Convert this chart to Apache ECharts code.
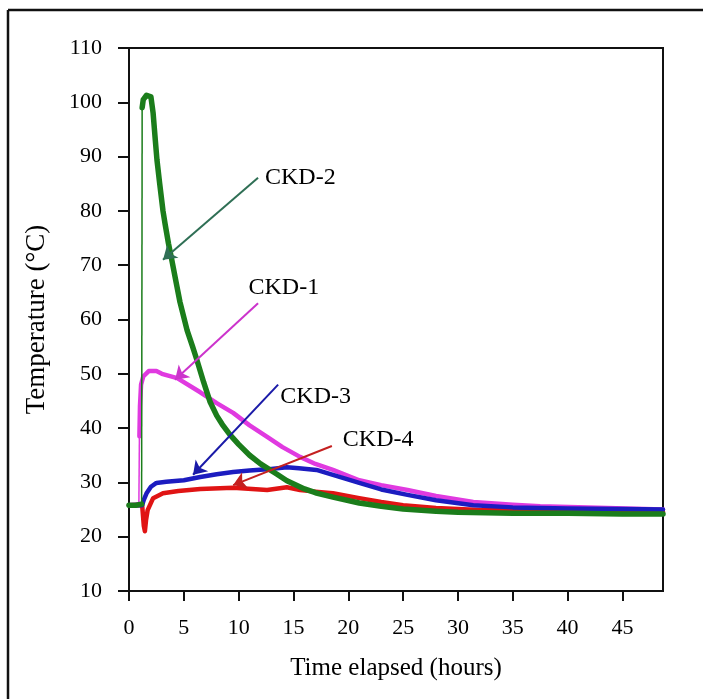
<!DOCTYPE html>
<html>
<head>
<meta charset="utf-8">
<script src="https://cdn.jsdelivr.net/npm/echarts@6/dist/echarts.min.js"></script>
<style>
html,body{margin:0;padding:0;background:#fff;}
#chart{width:703px;height:699px;}
</style>
</head>
<body>
<div id="chart"></div>
<script>
// ---- data ----
var xTicks = [0, 5, 10, 15, 20, 25, 30, 35, 40, 45];
var yTicks = [10, 20, 30, 40, 50, 60, 70, 80, 90, 100, 110];

// CKD-1 (magenta)
var ckd1Time = [0, 0.9, 0.95, 1.0, 1.1, 1.3, 1.8, 2.5, 3.0, 4.4, 6.5, 8.0, 9.5, 11, 12.6, 14, 15.6, 17, 18.6, 21, 23, 25.4, 28, 31.4, 35, 37.5, 43.6, 48.7];
var ckd1Temp = [25.8, 26.0, 38.5, 44, 48, 49.5, 50.5, 50.5, 50.0, 49.2, 46.6, 44.6, 42.8, 40.5, 38.4, 36.5, 34.7, 33.4, 32.3, 30.4, 29.5, 28.6, 27.5, 26.4, 25.9, 25.6, 25.3, 25.0];
var ckd1Jump = 2;

// CKD-2 (green)
var ckd2Time = [0, 0.6, 1.15, 1.2, 1.3, 1.6, 2.0, 2.2, 2.4, 2.55, 2.8, 3.1, 3.3, 3.6, 3.9, 4.3, 4.65, 5.3, 5.8, 6.2, 6.8, 7.4, 8.0, 8.5, 9.2, 10, 11, 12, 13.5, 14.4, 16, 17, 18.6, 21, 23, 25, 28, 30, 35, 40, 45, 48.7];
var ckd2Temp = [25.8, 25.8, 26.0, 99.0, 100.5, 101.3, 101.0, 98.0, 93.0, 89.4, 85.0, 80.0, 77.5, 74.0, 71.0, 66.8, 63.2, 58.0, 55.0, 52.5, 48.5, 44.8, 42.3, 40.7, 38.8, 37.0, 35.0, 33.4, 31.5, 30.3, 28.8, 28.1, 27.3, 26.2, 25.6, 25.1, 24.7, 24.5, 24.3, 24.3, 24.2, 24.2];
var ckd2Jump = 3;

// CKD-3 (blue)
var ckd3Time = [0, 1.2, 1.35, 1.6, 2.0, 2.5, 3.4, 5, 6.5, 8, 9.5, 11, 12.6, 14.4, 15.5, 17.1, 19.2, 21, 23, 25.4, 28, 31.4, 35, 40, 45, 48.7];
var ckd3Temp = [25.8, 25.8, 26.8, 28.0, 29.2, 29.9, 30.1, 30.4, 31.0, 31.5, 31.9, 32.2, 32.4, 32.8, 32.6, 32.3, 31.0, 29.9, 28.7, 27.7, 26.7, 25.8, 25.4, 25.2, 25.1, 25.0];

// CKD-4 (red)
var ckd4Time = [0, 1.2, 1.35, 1.45, 1.55, 1.7, 2.2, 3.1, 4.5, 6.5, 9.5, 12.6, 14.4, 15.6, 17, 18.6, 21, 23, 25, 28, 32, 40, 48.7];
var ckd4Temp = [25.8, 25.8, 22.0, 21.0, 23.0, 24.9, 27.1, 28.0, 28.4, 28.8, 29.0, 28.6, 29.1, 28.6, 28.3, 28.0, 27.1, 26.4, 25.8, 25.3, 24.9, 24.7, 24.6];

// annotations (data coordinates)
var annNames = ['CKD-2', 'CKD-1', 'CKD-3', 'CKD-4'];
var annTextPos = [[12.4, 86.1], [10.9, 65.9], [13.8, 45.8], [19.5, 37.9]];
var annArrowFrom = [[11.77, 86.1], [11.77, 63.0], [13.6, 48.0], [18.5, 36.7]];
var annArrowTo = [[3.1, 71.0], [4.2, 48.9], [5.84, 31.4], [9.5, 29.5]];
var annColors = ['#2f6f55', '#cc33cc', '#1a1aa8', '#c42020'];

// ---- build ----
var FONT = "'Liberation Serif', serif";
function pts(t, v) { return t.map(function (x, i) { return [x, v[i]]; }); }
function broken(t, v, j) {
  var p = pts(t, v);
  if (j == null) return p;
  return p.slice(0, j).concat([[null, null]]).concat(p.slice(j));
}
function connector(t, v, j) { return [[t[j - 1], v[j - 1]], [t[j], v[j]]]; }

var curves = [
  { name: 'CKD-1', t: ckd1Time, v: ckd1Temp, j: ckd1Jump, color: '#e03ae0', w: 4.5 },
  { name: 'CKD-4', t: ckd4Time, v: ckd4Temp, j: null, color: '#e01414', w: 4.5 },
  { name: 'CKD-3', t: ckd3Time, v: ckd3Temp, j: null, color: '#1c1cc0', w: 4.5 },
  { name: 'CKD-2', t: ckd2Time, v: ckd2Temp, j: ckd2Jump, color: '#1b7d1b', w: 5.5 }
];

var series = [];
curves.forEach(function (c) {
  series.push({
    type: 'line', name: c.name, data: broken(c.t, c.v, c.j),
    showSymbol: false, connectNulls: false, silent: true,
    lineStyle: { color: c.color, width: c.w, join: 'round', cap: 'round' },
    z: 3
  });
  if (c.j != null) {
    series.push({
      type: 'line', name: c.name + ' rise', data: connector(c.t, c.v, c.j),
      showSymbol: false, silent: true,
      lineStyle: { color: c.color, width: 1.5 }, z: 3
    });
  }
});

series.push({
  type: 'line', name: 'arrows', data: [], silent: true,
  markLine: {
    silent: true, animation: false,
    symbol: ['none', 'arrow'], symbolSize: 13,
    label: { show: false },
    emphasis: { disabled: true },
    data: annNames.map(function (n, i) {
      return [
        { coord: annArrowFrom[i], lineStyle: { color: annColors[i], width: 2, type: 'solid' }, itemStyle: { color: annColors[i] } },
        { coord: annArrowTo[i], itemStyle: { color: annColors[i] } }
      ];
    })
  },
  z: 5
});
series.push({
  type: 'scatter', name: 'labels', silent: true, symbolSize: 0,
  itemStyle: { opacity: 1 },
  data: annNames.map(function (n, i) { return { name: n, value: annTextPos[i] }; }),
  label: {
    show: true, position: 'right', distance: 0, opacity: 1,
    formatter: function (p) { return p.name; },
    fontFamily: FONT, fontSize: 24, color: '#000'
  },
  z: 6
});

var chart = echarts.init(document.getElementById('chart'), null, { renderer: 'canvas' });
chart.setOption({
  animation: false,
  backgroundColor: '#fff',
  textStyle: { fontFamily: FONT },
  grid: {
    left: 129, top: 48, right: 40, bottom: 108,
    show: true, borderColor: '#111', borderWidth: 2, backgroundColor: 'transparent'
  },
  graphic: [
    { type: 'line', shape: { x1: 8, y1: 10, x2: 703, y2: 10 }, style: { stroke: '#111', lineWidth: 2.5 } },
    { type: 'line', shape: { x1: 8, y1: 10, x2: 8, y2: 699 }, style: { stroke: '#111', lineWidth: 2.5 } }
  ],
  xAxis: {
    type: 'value', min: 0, max: 48.7,
    name: 'Time elapsed (hours)', nameLocation: 'middle', nameGap: 65,
    nameTextStyle: { fontFamily: FONT, fontSize: 25, color: '#000' },
    splitLine: { show: false },
    axisLine: { show: true, onZero: false, lineStyle: { color: '#111', width: 2 } },
    axisTick: { show: true, length: 10, inside: false, customValues: xTicks, lineStyle: { color: '#111', width: 2 } },
    axisLabel: { customValues: xTicks, margin: 26, fontFamily: FONT, fontSize: 22, color: '#000' }
  },
  yAxis: {
    type: 'value', min: 10, max: 110, interval: 10,
    name: 'Temperature (°C)', nameLocation: 'middle', nameGap: 79, nameRotate: 90,
    nameTextStyle: { fontFamily: FONT, fontSize: 27, color: '#000' },
    splitLine: { show: false },
    axisLine: { show: true, onZero: false, lineStyle: { color: '#111', width: 2 } },
    axisTick: { show: true, length: 11, customValues: yTicks, lineStyle: { color: '#111', width: 2 } },
    axisLabel: { customValues: yTicks, margin: 27, fontFamily: FONT, fontSize: 22, color: '#000' }
  },
  series: series
});
</script>
</body>
</html>
